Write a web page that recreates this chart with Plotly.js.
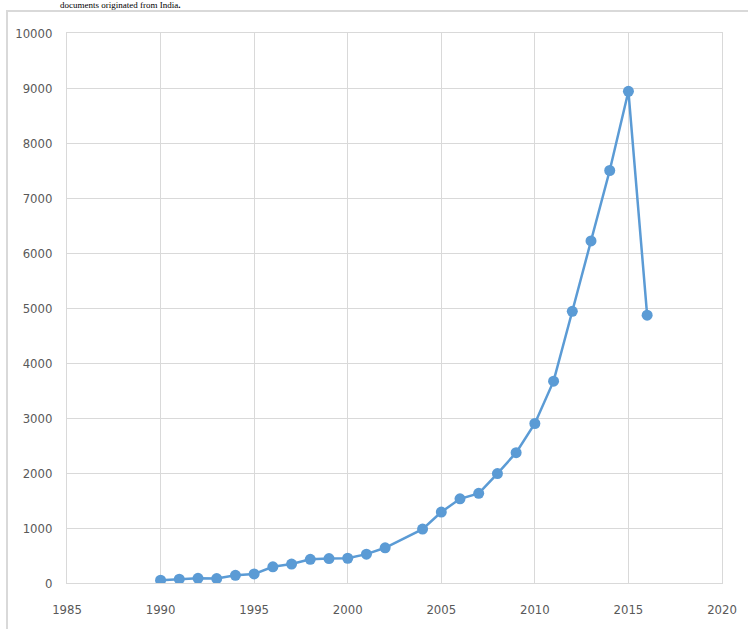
<!DOCTYPE html>
<html>
<head>
<meta charset="utf-8">
<script src="https://cdn.plot.ly/plotly-3.0.1.min.js"></script>
<style>
  html, body { margin: 0; padding: 0; background: #fff; }
  #wrap { position: relative; width: 748px; height: 629px; overflow: hidden; }
  #frame { position: absolute; left: 6px; top: 10px; width: 760px; height: 640px;
           border-left: 2px solid #d9d9d9; border-top: 2px solid #d9d9d9; }
  #caption { position: absolute; left: 60px; top: 1px; font-family: "Liberation Serif", serif;
             font-size: 9px; line-height: 9px; color: #000; white-space: nowrap; }
  #chart { position: absolute; left: 0; top: 0; width: 748px; height: 629px; }
</style>
</head>
<body>
<div id="wrap">
  <div id="frame"></div>
  <div id="caption">documents originated from India<b>.</b></div>
  <div id="chart"></div>
</div>
<script>
const years = [1990, 1991, 1992, 1993, 1994, 1995, 1996, 1997, 1998, 1999, 2000, 2001, 2002,
               2004, 2005, 2006, 2007, 2008, 2009, 2010, 2011, 2012, 2013, 2014, 2015, 2016];
const documents = [50, 70, 85, 80, 140, 165, 295, 345, 430, 445, 450, 525, 640,
                   980, 1290, 1530, 1630, 1990, 2370, 2900, 3670, 4940, 6220, 7500, 8940, 4870];
const xTicks = [1985, 1990, 1995, 2000, 2005, 2010, 2015, 2020];
const yTicks = [0, 1000, 2000, 3000, 4000, 5000, 6000, 7000, 8000, 9000, 10000];

const tickFont = { family: '"DejaVu Sans Condensed", "Liberation Sans Narrow", "Liberation Sans", sans-serif', size: 13, color: '#595959' };

Plotly.newPlot('chart', [{
  x: years,
  y: documents,
  type: 'scatter',
  mode: 'lines+markers',
  line: { color: '#5b9bd5', width: 2.5 },
  marker: { color: '#5b9bd5', size: 11 },
  hoverinfo: 'x+y'
}], {
  width: 748,
  height: 629,
  margin: { l: 67, r: 26, t: 33, b: 46 },
  paper_bgcolor: 'rgba(0,0,0,0)',
  plot_bgcolor: 'rgba(0,0,0,0)',
  showlegend: false,
  xaxis: {
    range: [1985, 2020],
    tickvals: xTicks,
    ticktext: xTicks.map(String),
    showgrid: true,
    gridcolor: '#d9d9d9',
    gridwidth: 1,
    zeroline: false,
    showline: true,
    mirror: true,
    linecolor: '#d9d9d9',
    linewidth: 1,
    ticks: 'outside',
    ticklen: 14,
    tickcolor: 'rgba(0,0,0,0)',
    tickfont: tickFont
  },
  yaxis: {
    range: [0, 10000],
    tickvals: yTicks,
    ticktext: yTicks.map(String),
    showgrid: true,
    gridcolor: '#d9d9d9',
    gridwidth: 1,
    zeroline: false,
    showline: true,
    mirror: true,
    linecolor: '#d9d9d9',
    linewidth: 1,
    ticks: 'outside',
    ticklen: 11,
    tickcolor: 'rgba(0,0,0,0)',
    tickfont: tickFont
  }
}, { displayModeBar: false, staticPlot: true });
</script>
</body>
</html>
